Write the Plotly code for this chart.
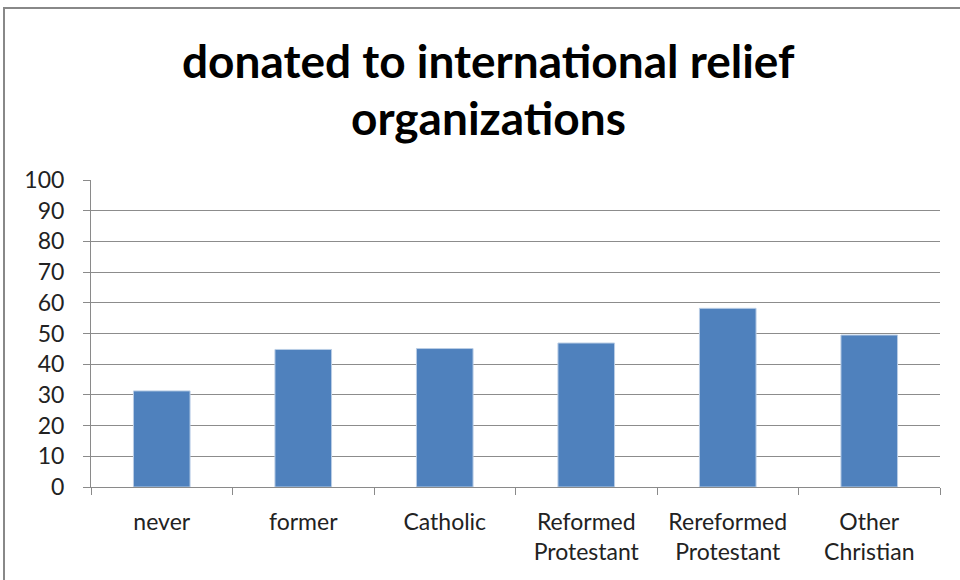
import plotly.graph_objects as go

# Share of each group that donated to international relief organizations (%)
categories = ["never", "former", "Catholic", "Reformed<br>Protestant",
              "Rereformed<br>Protestant", "Other<br>Christian"]
values = [31.3, 44.8, 45.1, 46.9, 58.2, 49.5]
y_ticks = [0, 10, 20, 30, 40, 50, 60, 70, 80, 90, 100]
title_lines = ["donated to international relief", "organizations"]

W, H = 960, 580
L, R, T, B = 91, 20, 180, 93
pw, ph = W - L - R, H - T - B
FONT = "Lato, Open Sans, sans-serif"

def px_x(x):
    return (x - L) / pw

def px_y(y):
    return (H - B - y) / ph

fig = go.Figure(go.Bar(
    x=categories, y=values,
    marker=dict(color="#4F81BD", line=dict(color="#b9cde5", width=1)),
))

fig.update_layout(
    width=W, height=H,
    margin=dict(l=L, r=R, t=T, b=B),
    paper_bgcolor="white", plot_bgcolor="white",
    bargap=0.6,
    showlegend=False,
    font=dict(family=FONT, color="#222", size=20),
)

fig.update_xaxes(
    showgrid=False, showline=True, linecolor="#8a8a8a", linewidth=1,
    ticks="outside", tickson="boundaries", ticklen=7, tickcolor="#8a8a8a",
    tickfont=dict(size=23, color="#222"), ticklabelstandoff=14,
)
fig.update_yaxes(
    range=[0, 100], tickvals=y_ticks,
    showgrid=True, gridcolor="#8c8c8c", gridwidth=1,
    showline=True, linecolor="#8a8a8a", linewidth=1,
    ticks="outside", ticklen=7, tickcolor="#8a8a8a",
    tickfont=dict(size=23, color="#222"), ticklabelstandoff=14,
    zeroline=False,
)

# Chart title, one annotation per line
for line, y_px in zip(title_lines, [60, 118]):
    fig.add_annotation(
        text=f"<b>{line}</b>",
        xref="paper", yref="paper", x=px_x(488), y=px_y(y_px),
        xanchor="center", yanchor="middle", showarrow=False,
        font=dict(family=FONT, size=46, color="#000"),
    )

# Outer chart frame
fig.add_shape(
    type="rect", xref="paper", yref="paper",
    x0=px_x(4), x1=px_x(964), y0=px_y(590), y1=px_y(8),
    line=dict(color="#888888", width=2), fillcolor="rgba(0,0,0,0)",
    layer="below",
)

fig.write_html("out.html")
